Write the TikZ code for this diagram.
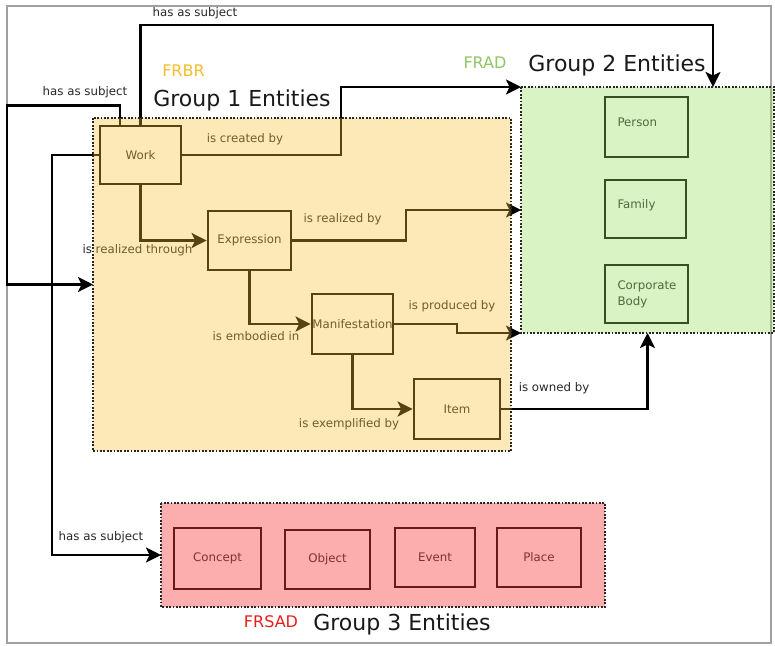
\documentclass[tikz,border=0pt]{standalone}
\usepackage{fontspec}
\setmainfont{DejaVu Sans}
\usetikzlibrary{arrows.meta,calc}

\definecolor{labelgray}{RGB}{40,40,40}
\definecolor{framegray}{RGB}{160,160,160}
\definecolor{frbrfill}{RGB}{250,190,50}
\definecolor{fradfill}{RGB}{153,222,97}
\definecolor{frsadfill}{RGB}{250,60,60}
\definecolor{frbrtitle}{RGB}{245,190,40}
\definecolor{fradtitle}{RGB}{140,200,100}
\definecolor{frsadtitle}{RGB}{230,30,30}

\tikzset{
  entity/.style={draw=black, line width=2.8pt, inner sep=0pt, text=labelgray,
                 font=\fontsize{11.8}{16}\selectfont},
  sidebox/.style={entity, align=left, inner xsep=12.5pt},
  group/.style={inner sep=0pt, outer sep=0pt},
  groupborder/.style={draw=black!85, line width=1.8pt, dash pattern=on 1.8pt off 1.6pt},
  conn/.style={draw=black, line width=2.4pt,
               -{Stealth[length=15pt,width=15pt,inset=3.5pt]}},
  rel/.style={text=labelgray, inner sep=0pt, font=\fontsize{11.8}{14}\selectfont},
  family label/.style={font=\fontsize{16}{18}\selectfont, inner sep=0pt},
  group title/.style={font=\fontsize{22}{26}\selectfont, text=black!90, inner sep=0pt, anchor=base},
}

\begin{document}
\begin{tikzpicture}[x=1pt,y=-1pt]
  % canvas and outer frame
  \fill[white] (0,0) rectangle (775,645);
  \useasboundingbox (0,0) rectangle (775,645);
  \draw[framegray, line width=1.5pt] (7,6) rectangle (771,643);

  % the three entity groups (filled later, on top)
  \node[group, minimum width=418pt, minimum height=333pt] (g1) at (302,284.5) {};
  \node[group, minimum width=253pt, minimum height=246pt] (g2) at (647.5,210) {};
  \node[group, minimum width=444pt, minimum height=104pt] (g3) at (383,555) {};

  % Group 1: FRBR
  \node[entity, minimum width=81pt, minimum height=58pt] (work)  at (140.5,155) {Work};
  \node[entity, minimum width=83pt, minimum height=59pt] (expr)  at (249.5,240.5) {Expression};
  \node[entity, minimum width=81pt, minimum height=60pt] (manif) at (352.5,324) {Manifestation};
  \node[entity, minimum width=86pt, minimum height=60pt] (item)  at (457,409) {Item};

  % Group 2: FRAD
  \node[sidebox, text width=58pt, minimum height=60pt, text depth=9pt] (person) at (646.5,127) {Person};
  \node[sidebox, text width=56pt, minimum height=58pt, text depth=10pt] (family) at (645.5,209) {Family};
  \node[sidebox, text width=58pt, minimum height=58pt] (corp) at (646.5,294) {Corporate\\Body};

  % Group 3: FRSAD
  \node[entity, minimum width=87pt, minimum height=61pt] (concept) at (217.5,558.5) {Concept};
  \node[entity, minimum width=85pt, minimum height=59pt] (object)  at (327.5,559.5) {Object};
  \node[entity, minimum width=80pt, minimum height=59pt] (event)   at (435,557.5) {Event};
  \node[entity, minimum width=84pt, minimum height=59pt] (place)   at (539,557.5) {Place};

  % bend points
  \coordinate (a1) at (713,25);
  \coordinate (b1) at (7,105.5);
  \coordinate (c1) at (52,0);
  \coordinate (d1) at (341,0);
  \coordinate (f1) at (406,0);
  \coordinate (h1) at (457,0);

  % relationships
  \draw[conn] (work.north) |- (a1) -- (a1 |- g2.north);
  \draw[conn] ([xshift=-20.5pt]work.north) |- (b1) |- (g1.west);
  \draw[conn] (work.west) -- (work.west -| c1) |- (g3.west);
  \draw[conn] (work.east) -- (work.east -| d1) |- (g2.north west);
  \draw[conn] (work.south) |- (expr.west);
  \draw[conn] (expr.east) -- (expr.east -| f1) |- (g2.west);
  \draw[conn] (expr.south) |- (manif.west);
  \draw[conn] (manif.east) -- (manif.east -| h1) |- (g2.south west);
  \draw[conn] (manif.south) |- (item.west);
  \draw[conn] (item.east) -| (g2.south);

  \node[rel] (lA) at (195,13)    {has as subject};
  \node[rel] (lB) at (85,92)     {has as subject};
  \node[rel] (lC) at (101,537)   {has as subject};
  \node[rel] (lD) at (245,139)   {is created by};
  \node[rel] (lE) at (137.5,250) {is realized through};
  \node[rel] (lF) at (342.5,219) {is realized by};
  \node[rel] (lG) at (256,336)   {is embodied in};
  \node[rel] (lH) at (452,306)   {is produced by};
  \node[rel] (lI) at (349,424)   {is exemplified by};
  \node[rel] (lJ) at (554,388)   {is owned by};

  % translucent group fills over everything inside them
  \fill[frbrfill, fill opacity=0.35] (g1.north west) rectangle (g1.south east);
  \fill[fradfill, fill opacity=0.36] (g2.north west) rectangle (g2.south east);
  \fill[frsadfill, fill opacity=0.42] (g3.north west) rectangle (g3.south east);
  \draw[groupborder] (g1.north west) rectangle (g1.south east);
  \draw[groupborder] (g2.north west) rectangle (g2.south east);
  \draw[groupborder] (g3.north west) rectangle (g3.south east);

  % group titles
  \node[family label, text=frbrtitle]  (frbr)  at (183.5,71) {FRBR};
  \node[group title] (t1) at (242,106) {Group 1 Entities};
  \node[family label, text=fradtitle]  (frad)  at (485,62.5) {FRAD};
  \node[group title] (t2) at (617,71.5) {Group 2 Entities};
  \node[family label, text=frsadtitle] (frsad) at (271,622) {FRSAD};
  \node[group title] (t3) at (402,630) {Group 3 Entities};
\end{tikzpicture}
\end{document}
